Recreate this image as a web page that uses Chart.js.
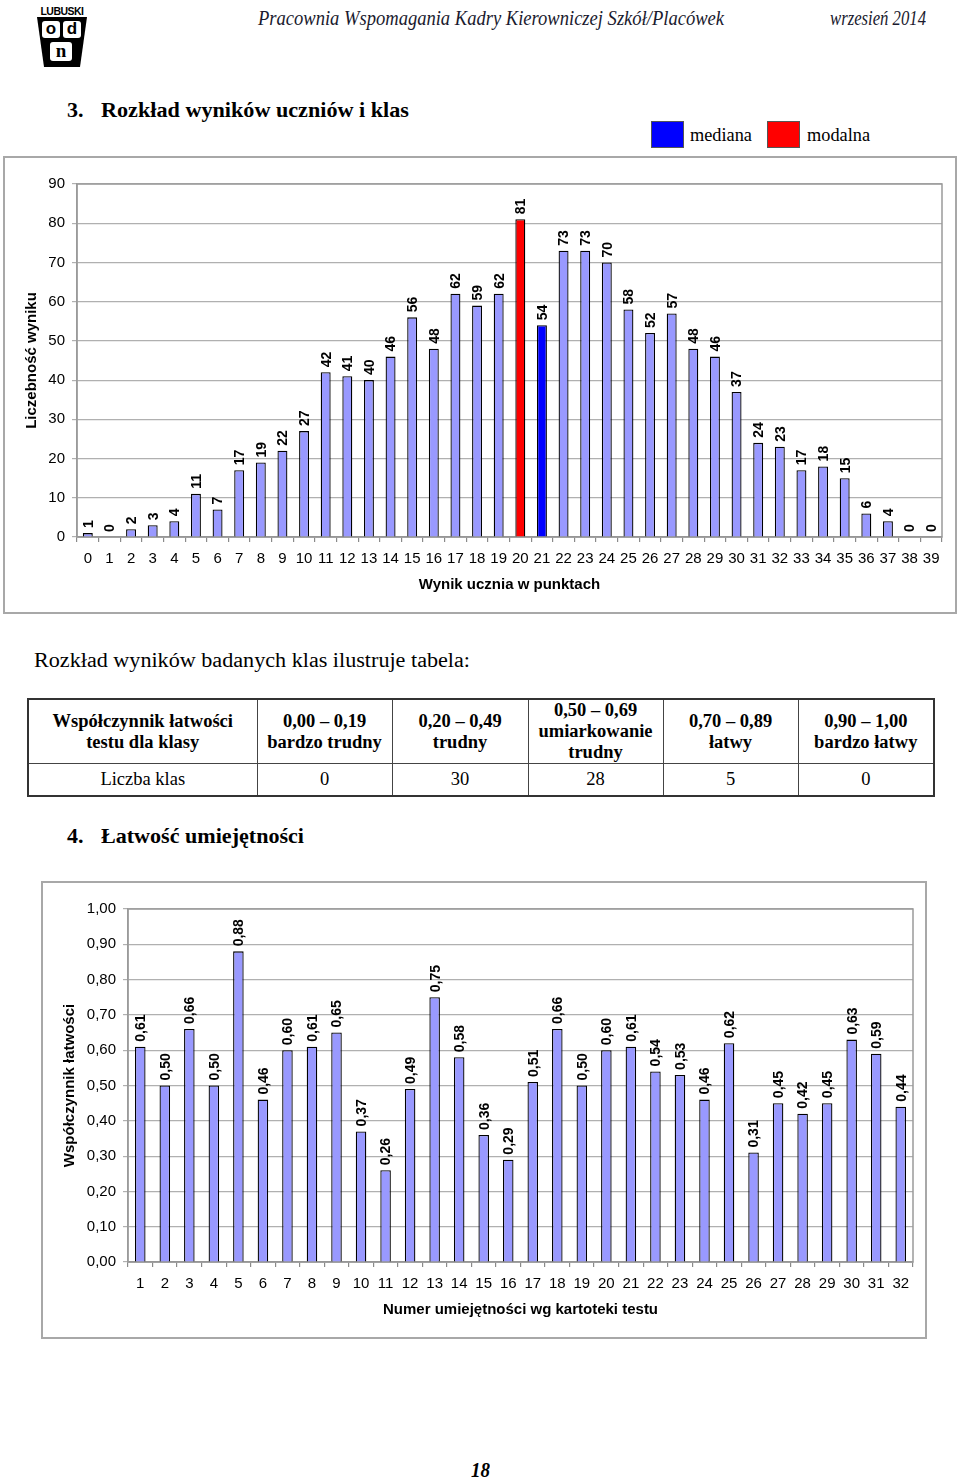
<!DOCTYPE html>
<html><head><meta charset="utf-8">
<script src="https://cdn.jsdelivr.net/npm/chart.js@4/dist/chart.umd.min.js"></script>
<style>
body{margin:0;background:#fff;width:960px;height:1480px;position:relative;overflow:hidden;font-family:"Liberation Serif","Times New Roman",serif;color:#000;}
.t{position:absolute;white-space:nowrap;line-height:1;transform-origin:left center;}
.box{position:absolute;border:2px solid #a8a8a8;box-sizing:border-box;background:#fff;}
.box canvas{position:absolute;left:0;top:0;}
.sq{position:absolute;border:1px solid #555;box-sizing:border-box;}
table.tb{position:absolute;left:27px;top:698px;width:906px;border-collapse:collapse;border:2px solid #333;table-layout:fixed;}
table.tb td{border:1px solid #444;text-align:center;vertical-align:middle;font-size:18.5px;line-height:21px;padding:0;}
table.tb tr.h td{height:62px;font-weight:bold;}
table.tb tr.r td{height:31px;}
.logo{position:absolute;left:35px;top:5px;width:54px;height:62px;}
</style></head>
<body>
<div class="logo">
  <div style="position:absolute;left:0;top:0;width:54px;height:13px;font:bold 11px 'Liberation Sans',Arial;letter-spacing:-0.5px;text-align:center;line-height:13px;transform:scaleX(0.95)">LUBUSKI</div>
  <div style="position:absolute;left:2px;top:12px;width:50px;height:50px;background:#000;clip-path:polygon(0 0,100% 0,86% 100%,14% 100%)"></div>
  <div style="position:absolute;left:7px;top:16px;width:18px;height:17px;background:#fff;border-radius:3px;font:bold 17px 'Liberation Sans';text-align:center;line-height:16px">o</div>
  <div style="position:absolute;left:28px;top:16px;width:18px;height:17px;background:#fff;border-radius:3px;font:bold 17px 'Liberation Sans';text-align:center;line-height:16px">d</div>
  <div style="position:absolute;left:15px;top:37px;width:22px;height:19px;background:#fff;border-radius:3px;font:bold 19px 'Liberation Serif';text-align:center;line-height:18px">n</div>
</div>

<div class="t" data-w="466" style="left:258px;top:8px;font-size:20px;font-style:italic;color:#1a1a2e">Pracownia Wspomagania Kadry Kierowniczej Szkół/Placówek</div>
<div class="t" data-w="96" style="left:830px;top:8px;font-size:20px;font-style:italic;color:#1a1a2e">wrzesień 2014</div>

<div class="t" style="left:67px;top:99px;font-size:22px;font-weight:bold">3.</div>
<div class="t" data-w="308" style="left:101px;top:99px;font-size:22px;font-weight:bold">Rozkład wyników uczniów i klas</div>

<div class="sq" style="left:651px;top:121px;width:33px;height:27px;background:#0000ff"></div>
<div class="t" data-w="62" style="left:690px;top:126px;font-size:18px">mediana</div>
<div class="sq" style="left:767px;top:121px;width:33px;height:27px;background:#ff0000"></div>
<div class="t" data-w="63" style="left:807px;top:126px;font-size:18px">modalna</div>

<div class="box" style="left:3px;top:156px;width:954px;height:458px;">
  <canvas id="c1" width="950" height="454" style="left:0;top:0"></canvas>
</div>

<div class="t" data-w="436" style="left:34px;top:650px;font-size:20px">Rozkład wyników badanych klas ilustruje tabela:</div>

<table class="tb">
  <colgroup><col style="width:229px"><col style="width:135px"><col style="width:136px"><col style="width:135px"><col style="width:135px"><col style="width:136px"></colgroup>
  <tr class="h" id="thead"></tr>
  <tr class="r" id="trow"></tr>
</table>

<div class="t" style="left:67px;top:825px;font-size:22px;font-weight:bold">4.</div>
<div class="t" data-w="203" style="left:101px;top:825px;font-size:22px;font-weight:bold">Łatwość umiejętności</div>

<div class="box" style="left:41px;top:881px;width:886px;height:458px;">
  <canvas id="c2" width="882" height="454"></canvas>
</div>

<div class="t" data-w="19" style="left:471px;top:1460px;font-size:20px;font-style:italic;font-weight:bold">18</div>

<script>
// ---- data: chart 1 ----
const scoreLabels = ['0','1','2','3','4','5','6','7','8','9','10','11','12','13','14','15','16','17','18','19','20','21','22','23','24','25','26','27','28','29','30','31','32','33','34','35','36','37','38','39'];
const scoreCounts = [1,0,2,3,4,11,7,17,19,22,27,42,41,40,46,56,48,62,59,62,81,54,73,73,70,58,52,57,48,46,37,24,23,17,18,15,6,4,0,0];
const modeIndex = 20;
const medianIndex = 21;
const countTicks = [0,10,20,30,40,50,60,70,80,90];

// ---- data: chart 2 ----
const skillLabels = ['1','2','3','4','5','6','7','8','9','10','11','12','13','14','15','16','17','18','19','20','21','22','23','24','25','26','27','28','29','30','31','32'];
const skillValues = [0.61,0.50,0.66,0.50,0.88,0.46,0.60,0.61,0.65,0.37,0.26,0.49,0.75,0.58,0.36,0.29,0.51,0.66,0.50,0.60,0.61,0.54,0.53,0.46,0.62,0.31,0.45,0.42,0.45,0.63,0.59,0.44];
const easeTicks = [0,0.1,0.2,0.3,0.4,0.5,0.6,0.7,0.8,0.9,1.0];

// ---- data: table ----
const tableHeader = [['Współczynnik łatwości','testu dla klasy'],['0,00 – 0,19','bardzo trudny'],['0,20 – 0,49','trudny'],['0,50 – 0,69','umiarkowanie','trudny'],['0,70 – 0,89','łatwy'],['0,90 – 1,00','bardzo łatwy']];
const tableRow = ['Liczba klas','0','30','28','5','0'];

document.getElementById('thead').innerHTML = tableHeader.map(c=>'<td>'+c.join('<br>')+'</td>').join('');
document.getElementById('trow').innerHTML = tableRow.map(c=>'<td>'+c+'</td>').join('');

function fitTexts(){
  document.querySelectorAll('[data-w]').forEach(el=>{
    el.style.transform='none';
    const w = el.getBoundingClientRect().width;
    el.style.transform = 'scaleX(' + (parseFloat(el.dataset.w)/w) + ')';
  });
}
fitTexts();

const SANS = '"Liberation Sans", Arial, sans-serif';
const comma = v => v.toFixed(2).replace('.', ',');

function makeLabelPlugin(fmt){
  return {
    id:'barLabels',
    afterDatasetsDraw(chart){
      const ctx = chart.ctx;
      const meta = chart.getDatasetMeta(0);
      const data = chart.data.datasets[0].data;
      ctx.save();
      ctx.font = 'bold 14px ' + SANS;
      ctx.fillStyle = '#000';
      ctx.textAlign = 'left';
      ctx.textBaseline = 'middle';
      meta.data.forEach((bar,i)=>{
        ctx.save();
        ctx.translate(bar.x + 1, bar.y - 5);
        ctx.rotate(-Math.PI/2);
        ctx.fillText(fmt(data[i]), 0, 0);
        ctx.restore();
      });
      ctx.restore();
    }
  };
}
const framePlugin = {
  id:'frame',
  beforeDatasetsDraw(chart){
    const {ctx, chartArea:a} = chart;
    ctx.save();
    ctx.strokeStyle = '#9a9a9a';
    ctx.lineWidth = 1.5;
    ctx.strokeRect(a.left, a.top, a.right - a.left, a.bottom - a.top);
    ctx.restore();
  }
};

function commonOptions(opts){
  return {
    responsive:false,
    animation:false,
    events:[],
    layout:{padding:{left:0, top:26, right:opts.padRight, bottom:0}},
    plugins:{legend:{display:false}, tooltip:{enabled:false}},
    scales:{
      x:{
        grid:{offset:true, drawOnChartArea:false, drawTicks:true, tickLength:5, color:'#8a8a8a', lineWidth:1.2},
        border:{color:'#8a8a8a', width:1.5},
        ticks:{font:{family:SANS, size:15}, color:'#000', padding:8, maxRotation:0, minRotation:0, autoSkip:false},
        title:{display:true, text:opts.xTitle, font:{family:SANS, size:15, weight:'bold'}, color:'#000', padding:{top:0,bottom:18}},
        afterFit(s){ s.height = 75; }
      },
      y:{
        min:opts.min, max:opts.max,
        afterBuildTicks(s){ s.ticks = opts.ticks.map(v=>({value:v})); },
        grid:{color:'#b0b0b0', lineWidth:1.2, tickLength:5},
        border:{color:'#9a9a9a', width:1.5},
        ticks:{font:{family:SANS, size:15}, color:'#000', padding:7, callback:opts.tickFmt},
        title:{display:true, text:opts.yTitle, font:{family:SANS, size:15, weight:'bold'}, color:'#000', padding:{top:18,bottom:0}},
        afterFit(s){ s.width = opts.yWidth; }
      }
    }
  };
}

const barColors1 = scoreCounts.map((v,i)=> i===modeIndex ? '#ff0000' : (i===medianIndex ? '#0000ff' : '#9999ff'));

new Chart(document.getElementById('c1'), {
  type:'bar',
  data:{labels:scoreLabels, datasets:[{data:scoreCounts, backgroundColor:barColors1, borderColor:'#000', borderWidth:1.3, barPercentage:0.46, categoryPercentage:1}]},
  options:commonOptions({padRight:13, min:0, max:90, ticks:countTicks, tickFmt:v=>String(v), xTitle:'Wynik ucznia w punktach', yTitle:'Liczebność wyniku', yWidth:72}),
  plugins:[framePlugin, makeLabelPlugin(v=>String(v))]
});

new Chart(document.getElementById('c2'), {
  type:'bar',
  data:{labels:skillLabels, datasets:[{data:skillValues, backgroundColor:'#9999ff', borderColor:'#000', borderWidth:1.3, barPercentage:0.43, categoryPercentage:1}]},
  options:commonOptions({padRight:12, min:0, max:1, ticks:easeTicks, tickFmt:v=>comma(v), xTitle:'Numer umiejętności wg kartoteki testu', yTitle:'Współczynnik łatwości', yWidth:85}),
  plugins:[framePlugin, makeLabelPlugin(comma)]
});
</script>
</body></html>
